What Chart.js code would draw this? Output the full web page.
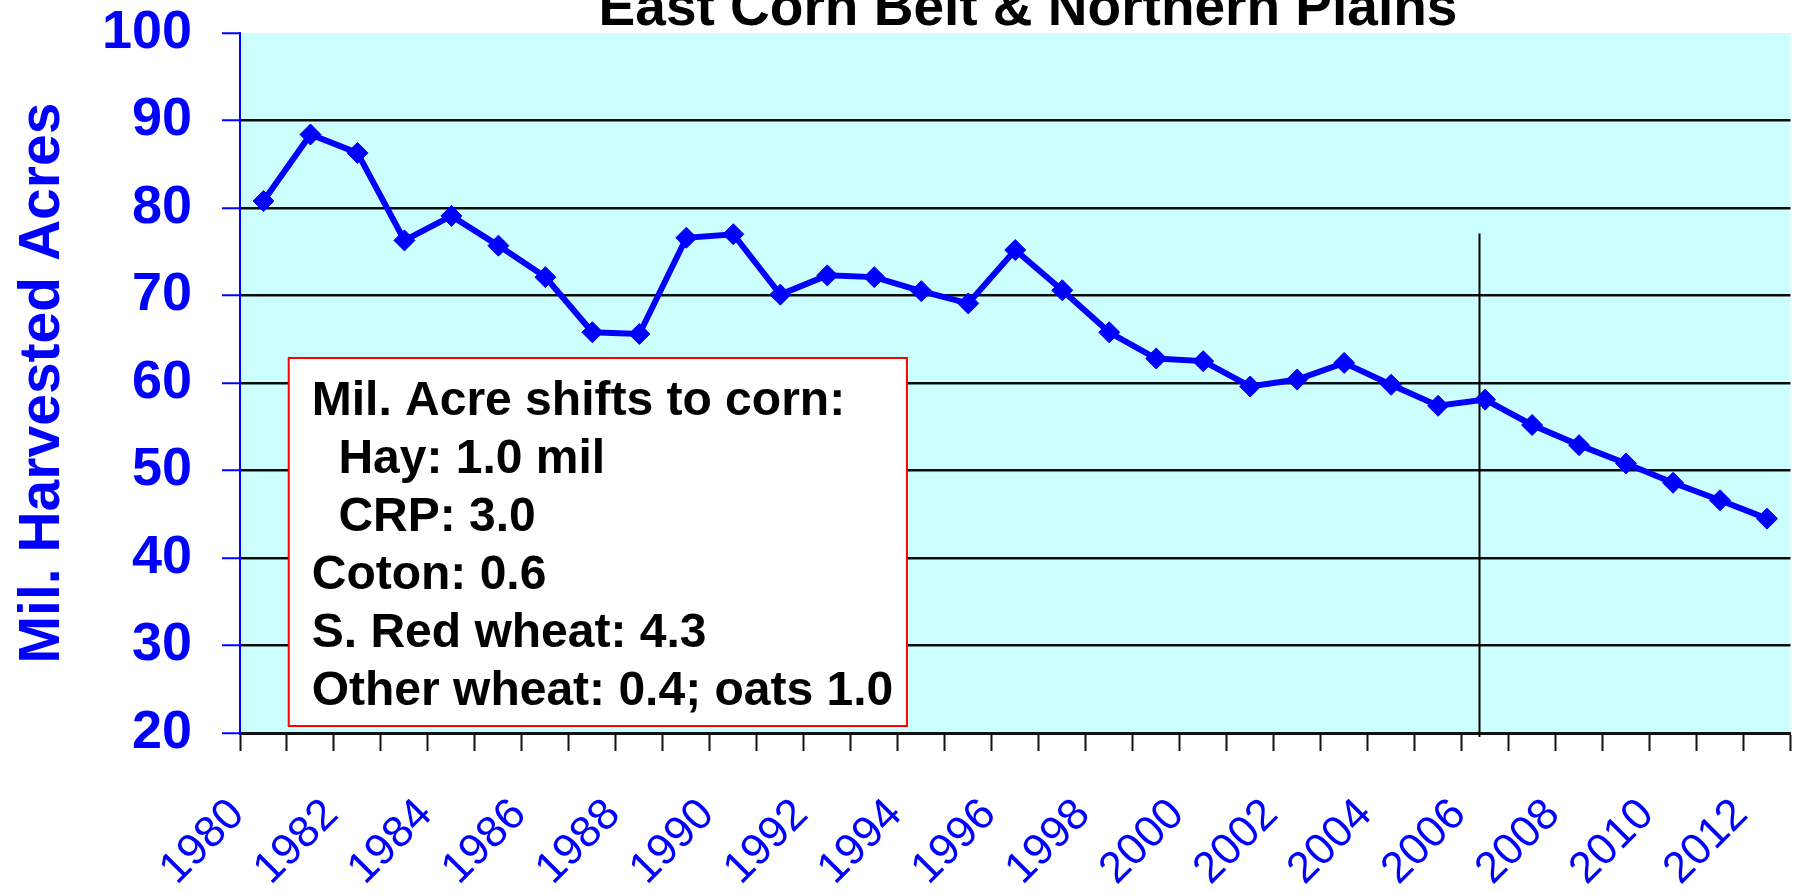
<!DOCTYPE html>
<html>
<head>
<meta charset="utf-8">
<title>East Corn Belt & Northern Plains</title>
<script src="https://cdn.jsdelivr.net/npm/chart.js@4/dist/chart.umd.min.js"></script>
<style>
  html, body { margin: 0; padding: 0; background: #fff; }
  #wrap { width: 1802px; height: 893px; }
</style>
</head>
<body>
<div id="wrap"><canvas id="acresChart" width="1802" height="893"></canvas></div>
<script>
// Harvested acres, East Corn Belt & Northern Plains (mil. acres)
const years = ['1980', '1981', '1982', '1983', '1984', '1985', '1986', '1987', '1988', '1989',
  '1990', '1991', '1992', '1993', '1994', '1995', '1996', '1997', '1998', '1999',
  '2000', '2001', '2002', '2003', '2004', '2005', '2006', '2007', '2008', '2009',
  '2010', '2011', '2012'];
const acres = [80.8, 88.4, 86.3, 76.3, 79.1, 75.7, 72.1, 65.8, 65.6, 76.6,
  77.0, 70.1, 72.3, 72.1, 70.5, 69.1, 75.2, 70.6, 65.8, 62.8,
  62.5, 59.6, 60.4, 62.3, 59.8, 57.4, 58.1, 55.2, 52.9, 50.8,
  48.6, 46.6, 44.5];
const yTicks = [20, 30, 40, 50, 60, 70, 80, 90, 100];

const noteLines = [
  'Mil. Acre shifts to corn:',
  '  Hay: 1.0 mil',
  '  CRP: 3.0',
  'Coton: 0.6',
  'S. Red wheat: 4.3',
  'Other wheat: 0.4; oats 1.0'
];

const chartTitle = 'East Corn Belt & Northern Plains';
const yTitle = 'Mil. Harvested Acres';

const colors = {
  blue: '#0000FF',
  plotBg: '#CCFFFF',
  grid: '#0a0a0a',
  red: '#FF0000'
};
const fontFamily = '"Liberation Sans", Arial, sans-serif';

// Plot background, title (clipped at top), marker line, note box
const decorPlugin = {
  id: 'decor',
  beforeDraw(chart) {
    const { ctx, chartArea: a } = chart;
    ctx.save();
    ctx.fillStyle = colors.plotBg;
    ctx.fillRect(a.left, a.top, a.right - a.left, a.bottom - a.top);
    ctx.restore();
  },
  beforeDatasetsDraw(chart) {
    const { ctx, scales: { x, y } } = chart;
    // vertical divider just before 2006
    const lx = Math.round(x.getPixelForValue(25.86)) + 0.5;
    ctx.save();
    ctx.strokeStyle = '#000';
    ctx.lineWidth = 2;
    ctx.beginPath();
    ctx.moveTo(lx, y.getPixelForValue(77.1));
    ctx.lineTo(lx, y.getPixelForValue(20) + 4);
    ctx.stroke();
    ctx.restore();
  },
  afterDatasetsDraw(chart) {
    const { ctx, scales: { x, y } } = chart;
    ctx.save();
    // title, partly above the canvas like the source slide
    ctx.fillStyle = '#000';
    ctx.font = 'bold 55px ' + fontFamily;
    ctx.textAlign = 'center';
    ctx.textBaseline = 'alphabetic';
    ctx.fillText(chartTitle, 1028, 25);

    // note box
    const bx1 = x.getPixelForValue(0.537);
    const bx2 = x.getPixelForValue(13.695);
    const by1 = y.getPixelForValue(62.86);
    const by2 = y.getPixelForValue(20.8);
    ctx.fillStyle = '#fff';
    ctx.fillRect(bx1, by1, bx2 - bx1, by2 - by1);
    ctx.strokeStyle = colors.red;
    ctx.lineWidth = 2;
    ctx.strokeRect(bx1, by1, bx2 - bx1, by2 - by1);

    ctx.fillStyle = '#000';
    ctx.font = 'bold 48px ' + fontFamily;
    ctx.textAlign = 'left';
    noteLines.forEach(function(line, i) {
      ctx.fillText(line, bx1 + 23, by1 + 57 + i * 58);
    });
    ctx.restore();
  }
};

function initAcresChart() {
  const ctx = document.getElementById('acresChart').getContext('2d');

  new Chart(ctx, {
    type: 'line',
    data: {
      labels: years,
      datasets: [{
        label: 'Harvested acres',
        data: acres,
        borderColor: colors.blue,
        backgroundColor: colors.blue,
        borderWidth: 6,
        tension: 0,
        pointStyle: 'rectRot',
        pointRadius: 10.5,
        pointBorderWidth: 1,
        pointBackgroundColor: colors.blue,
        pointBorderColor: colors.blue
      }]
    },
    options: {
      responsive: false,
      animation: false,
      devicePixelRatio: 1,
      layout: { padding: { top: 33, right: 4, left: 0, bottom: 0 } },
      plugins: {
        legend: { display: false },
        tooltip: { enabled: false }
      },
      scales: {
        x: {
          offset: true,
          afterFit(scale) {
            scale.height = 160;
            scale.paddingLeft = 0;
            scale.paddingRight = 0;
          },
          border: { color: '#111', width: 3 },
          grid: {
            offset: true,
            drawOnChartArea: false,
            drawTicks: true,
            tickLength: 18,
            tickWidth: 2,
            tickColor: '#111',
            color: '#111'
          },
          ticks: {
            autoSkip: false,
            minRotation: 45,
            maxRotation: 45,
            padding: 38,
            labelOffset: -26,
            color: colors.blue,
            font: { family: fontFamily, size: 44 },
            callback: function(value, index) {
              return index % 2 === 0 ? years[index] : '';
            }
          }
        },
        y: {
          min: 20,
          max: 100,
          afterFit(scale) {
            scale.width = 240;
            scale.paddingTop = 0;
            scale.paddingBottom = 0;
          },
          afterBuildTicks(scale) {
            scale.ticks = yTicks.map(function(v) { return { value: v }; });
          },
          border: { color: colors.blue, width: 2 },
          grid: {
            color: function(c) {
              return c.tick && c.tick.value === 100 ? 'rgba(0,0,0,0)' : colors.grid;
            },
            lineWidth: 2.5,
            tickLength: 18,
            tickWidth: 2,
            tickColor: colors.blue
          },
          ticks: {
            padding: 30,
            color: colors.blue,
            font: { family: fontFamily, size: 54, weight: 'bold' }
          },
          title: {
            display: true,
            text: yTitle,
            color: colors.blue,
            padding: { top: 9, bottom: 0 },
            font: { family: fontFamily, size: 57, weight: 'bold' }
          }
        }
      }
    },
    plugins: [decorPlugin]
  });
}

document.addEventListener('DOMContentLoaded', function() {
  initAcresChart();
});
</script>
</body>
</html>
